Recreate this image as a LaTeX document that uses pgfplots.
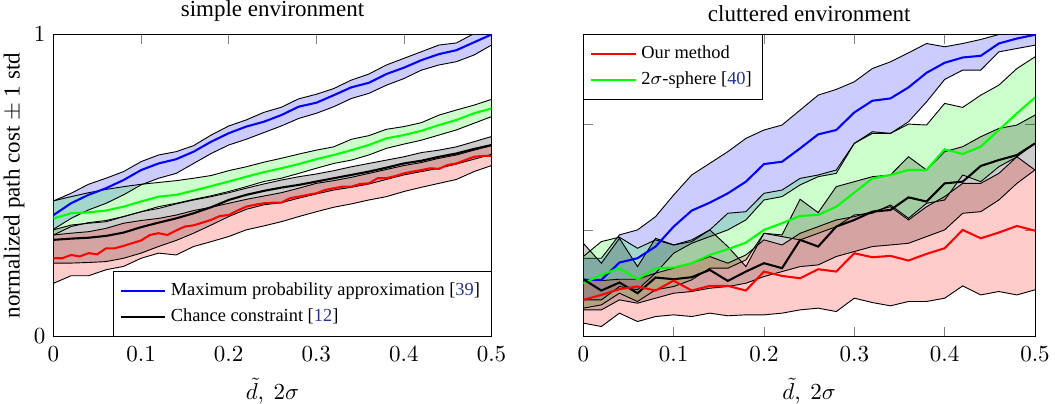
\documentclass[border=0pt]{standalone}
\usepackage{fontspec}
\setmainfont{Liberation Serif}
\usepackage{pgfplots}
\pgfplotsset{compat=1.18}
\usepackage{pgfplotstable}
\usepgfplotslibrary{fillbetween}
\definecolor{citeblue}{RGB}{40,50,140}

\pgfplotstableread{
x bu bm bl gu gm gl ku km kl ru rl
0.00 0.449 0.402 0.355 0.449 0.391 0.336 0.353 0.320 0.243 0.336 0.176
0.02 0.474 0.441 0.391 0.463 0.408 0.364 0.369 0.324 0.243 0.342 0.201
0.04 0.504 0.469 0.419 0.476 0.411 0.377 0.375 0.327 0.245 0.347 0.201
0.06 0.524 0.491 0.441 0.487 0.417 0.384 0.380 0.333 0.248 0.358 0.221
0.08 0.546 0.518 0.469 0.496 0.430 0.397 0.397 0.344 0.259 0.375 0.232
0.10 0.579 0.551 0.502 0.504 0.447 0.413 0.413 0.362 0.276 0.384 0.259
0.12 0.601 0.573 0.524 0.510 0.463 0.430 0.424 0.377 0.298 0.391 0.276
0.14 0.612 0.587 0.540 0.516 0.469 0.441 0.439 0.391 0.318 0.402 0.270
0.16 0.632 0.612 0.573 0.524 0.483 0.454 0.452 0.408 0.342 0.417 0.298
0.18 0.667 0.645 0.606 0.533 0.498 0.466 0.463 0.428 0.369 0.428 0.314
0.20 0.697 0.673 0.634 0.549 0.513 0.480 0.476 0.452 0.397 0.441 0.331
0.22 0.717 0.695 0.653 0.562 0.529 0.496 0.491 0.469 0.421 0.454 0.353
0.24 0.742 0.711 0.675 0.577 0.544 0.513 0.505 0.482 0.436 0.465 0.366
0.26 0.759 0.733 0.697 0.590 0.557 0.524 0.518 0.493 0.443 0.476 0.380
0.28 0.787 0.761 0.722 0.604 0.571 0.540 0.529 0.502 0.458 0.491 0.397
0.30 0.802 0.774 0.739 0.617 0.587 0.557 0.538 0.513 0.472 0.507 0.413
0.32 0.821 0.799 0.761 0.628 0.601 0.573 0.549 0.524 0.485 0.516 0.428
0.34 0.849 0.825 0.788 0.653 0.617 0.584 0.562 0.535 0.494 0.527 0.439
0.36 0.869 0.840 0.805 0.665 0.634 0.601 0.573 0.546 0.505 0.540 0.452
0.38 0.899 0.869 0.832 0.686 0.656 0.623 0.584 0.559 0.520 0.553 0.463
0.40 0.921 0.890 0.854 0.695 0.667 0.637 0.595 0.573 0.535 0.566 0.480
0.42 0.943 0.915 0.882 0.708 0.681 0.650 0.609 0.582 0.546 0.576 0.494
0.44 0.965 0.935 0.899 0.733 0.700 0.667 0.617 0.595 0.557 0.590 0.507
0.46 0.972 0.948 0.910 0.750 0.717 0.684 0.628 0.606 0.571 0.601 0.520
0.48 1.003 0.974 0.932 0.766 0.739 0.706 0.645 0.621 0.587 0.617 0.546
0.50 1.030 1.000 0.965 0.785 0.755 0.728 0.662 0.634 0.603 0.632 0.566
}\leftdata

\pgfplotstableread{
x rm
0.00 0.259
0.01 0.259
0.02 0.270
0.03 0.265
0.04 0.276
0.05 0.272
0.06 0.292
0.07 0.292
0.08 0.300
0.09 0.309
0.10 0.318
0.11 0.336
0.12 0.342
0.13 0.336
0.14 0.351
0.15 0.364
0.16 0.368
0.17 0.377
0.18 0.386
0.19 0.399
0.20 0.402
0.21 0.417
0.22 0.430
0.23 0.436
0.24 0.441
0.25 0.443
0.26 0.443
0.27 0.458
0.28 0.463
0.29 0.469
0.30 0.474
0.31 0.485
0.32 0.491
0.33 0.496
0.34 0.496
0.35 0.505
0.36 0.507
0.37 0.524
0.38 0.524
0.39 0.531
0.40 0.540
0.41 0.546
0.42 0.551
0.43 0.557
0.44 0.555
0.45 0.568
0.46 0.573
0.47 0.584
0.48 0.595
0.49 0.598
0.50 0.598
}\leftred

\pgfplotstableread{
x bu bm bl gu gm gl ku km kl ru rm rl
0.00 0.738 0.534 0.345 0.754 0.502 0.267 0.879 0.540 0.251 0.540 0.345 0.126
0.02 0.738 0.534 0.345 0.895 0.581 0.298 0.691 0.433 0.251 0.527 0.392 0.094
0.04 0.958 0.697 0.471 0.936 0.644 0.408 0.926 0.509 0.345 0.540 0.446 0.220
0.06 1.005 0.738 0.440 0.832 0.540 0.330 0.659 0.408 0.314 0.540 0.471 0.141
0.08 1.130 0.848 0.597 0.911 0.644 0.440 0.926 0.556 0.361 0.597 0.433 0.188
0.10 1.334 1.036 0.785 0.863 0.650 0.471 0.863 0.540 0.408 0.644 0.527 0.204
0.12 1.523 1.187 0.879 0.911 0.691 0.534 0.895 0.559 0.424 0.691 0.433 0.188
0.14 1.633 1.262 0.942 1.005 0.769 0.644 1.005 0.628 0.455 0.754 0.477 0.220
0.16 1.743 1.350 1.005 1.162 0.823 0.644 0.848 0.524 0.471 0.691 0.477 0.195
0.18 1.868 1.460 1.099 1.177 0.885 0.722 0.659 0.612 0.502 0.769 0.433 0.204
0.20 1.947 1.626 1.287 1.350 1.005 0.973 0.973 0.691 0.565 0.911 0.612 0.204
0.22 1.994 1.648 1.319 1.381 1.068 0.942 0.958 0.644 0.612 0.863 0.571 0.220
0.24 2.135 1.774 1.429 1.491 1.137 0.911 1.294 0.911 0.659 0.973 0.549 0.251
0.26 2.276 1.906 1.507 1.523 1.146 0.973 1.168 0.848 0.675 1.036 0.634 0.267
0.28 2.330 1.947 1.538 1.570 1.224 1.036 1.413 1.036 0.754 1.099 0.612 0.235
0.30 2.402 2.113 1.821 1.821 1.356 1.146 1.460 1.099 0.801 1.130 0.785 0.361
0.32 2.527 2.223 1.915 1.931 1.491 1.162 1.507 1.177 0.848 1.177 0.747 0.320
0.34 2.590 2.245 1.915 1.915 1.523 1.240 1.523 1.193 0.863 1.224 0.760 0.289
0.36 2.675 2.349 2.025 2.003 1.570 1.115 1.695 1.312 0.879 1.099 0.716 0.330
0.38 2.763 2.487 2.213 1.994 1.570 1.256 1.570 1.272 0.942 1.224 0.779 0.330
0.40 2.732 2.581 2.424 2.198 1.765 1.287 1.743 1.444 1.005 1.319 0.832 0.361
0.42 2.763 2.631 2.512 2.160 1.721 1.523 1.790 1.460 1.162 1.444 1.005 0.477
0.44 2.801 2.647 2.512 2.276 1.790 1.460 1.884 1.608 1.177 1.444 0.926 0.392
0.46 2.848 2.763 2.684 2.370 1.947 1.601 1.962 1.664 1.287 1.538 0.980 0.424
0.48 2.873 2.810 2.716 2.527 2.104 1.695 1.994 1.711 1.444 1.695 1.042 0.392
0.50 2.895 2.845 2.747 2.637 2.254 1.821 2.088 1.821 1.570 1.570 0.998 0.440
}\rightdata

\pgfplotsset{
  edge/.style={black, line width=0.4pt, forget plot},
  meanline/.style={line width=0.9pt, forget plot},
  common/.style={
    scale only axis,
    height=131.3pt,
    xmin=0, xmax=0.5,
    xtick={0,0.1,0.2,0.3,0.4,0.5},
    xlabel={$\tilde{d},\ 2\sigma$},
    xlabel style={yshift=-0.3pt},
    xticklabel style={yshift=-1pt},
    title style={yshift=-4pt},
    legend cell align=left,
    clip=true,
  },
}

% #1 table, #2 upper col, #3 lower col, #4 color, #5 unique name
\newcommand{\bandplot}[5]{%
  \addplot[edge, name path=#5u] table[x=x,y=#2]{#1};
  \addplot[edge, name path=#5l] table[x=x,y=#3]{#1};
  \addplot[#4, fill opacity=0.2, draw=none, forget plot] fill between[of=#5u and #5l];
}

\begin{document}
\begin{tikzpicture}
\begin{axis}[common,
  at={(23.26pt,29.35pt)}, anchor=south west,
  width=190.43pt,
  ymin=0, ymax=1, ytick={0,1},
  title={simple environment},
  ylabel={normalized path cost $\pm$ 1 std},
  ylabel style={at={(axis description cs:-0.0475,0.5)}, anchor=south},
  legend style={at={(1,0)}, anchor=south east, draw=black, font=\footnotesize,
    row sep=0.2pt, inner sep=2.8pt},
  legend image code/.code={\draw[#1] (0cm,0cm) -- (0.68cm,0cm);},
]
\bandplot{\leftdata}{bu}{bl}{blue}{Lb}
\bandplot{\leftdata}{gu}{gl}{green}{Lg}
\bandplot{\leftdata}{ku}{kl}{black}{Lk}
\addplot[edge, name path=Lru] table[x=x,y=ru]{\leftdata};
\addplot[edge, name path=Lrl] table[x=x,y=rl]{\leftdata};
\addplot[red, fill opacity=0.2, draw=none, forget plot] fill between[of=Lru and Lrl];
\addplot[meanline, blue] table[x=x,y=bm]{\leftdata};
\addplot[meanline, green] table[x=x,y=gm]{\leftdata};
\addplot[meanline, black] table[x=x,y=km]{\leftdata};
\addplot[meanline, red] table[x=x,y=rm]{\leftred};
\addlegendimage{blue, line width=0.9pt}
\addlegendentry{Maximum probability approximation [\textcolor{citeblue}{39}]}
\addlegendimage{black, line width=0.9pt}
\addlegendentry{Chance constraint [\textcolor{citeblue}{12}]}
\end{axis}

\begin{axis}[common,
  at={(253.61pt,29.35pt)}, anchor=south west,
  width=196.39pt,
  ymin=0, ymax=2.848, ytick={0,1,2}, yticklabels={},
  title={cluttered environment},
  legend style={at={(0,1)}, anchor=north west, draw=black, font=\footnotesize,
    row sep=0.2pt, inner sep=2.8pt},
  legend image code/.code={\draw[#1] (0cm,0cm) -- (0.68cm,0cm);},
]
\bandplot{\rightdata}{bu}{bl}{blue}{Rb}
\bandplot{\rightdata}{gu}{gl}{green}{Rg}
\bandplot{\rightdata}{ku}{kl}{black}{Rk}
\bandplot{\rightdata}{ru}{rl}{red}{Rr}
\addplot[meanline, blue] table[x=x,y=bm]{\rightdata};
\addplot[meanline, green] table[x=x,y=gm]{\rightdata};
\addplot[meanline, black] table[x=x,y=km]{\rightdata};
\addplot[meanline, red] table[x=x,y=rm]{\rightdata};
\addlegendimage{red, line width=0.9pt}
\addlegendentry{Our method}
\addlegendimage{green, line width=0.9pt}
\addlegendentry{2$\sigma$-sphere [\textcolor{citeblue}{40}]}
\end{axis}
\pgfresetboundingbox
\useasboundingbox (0,0) rectangle (458.70pt,175.65pt);
\end{tikzpicture}
\end{document}
